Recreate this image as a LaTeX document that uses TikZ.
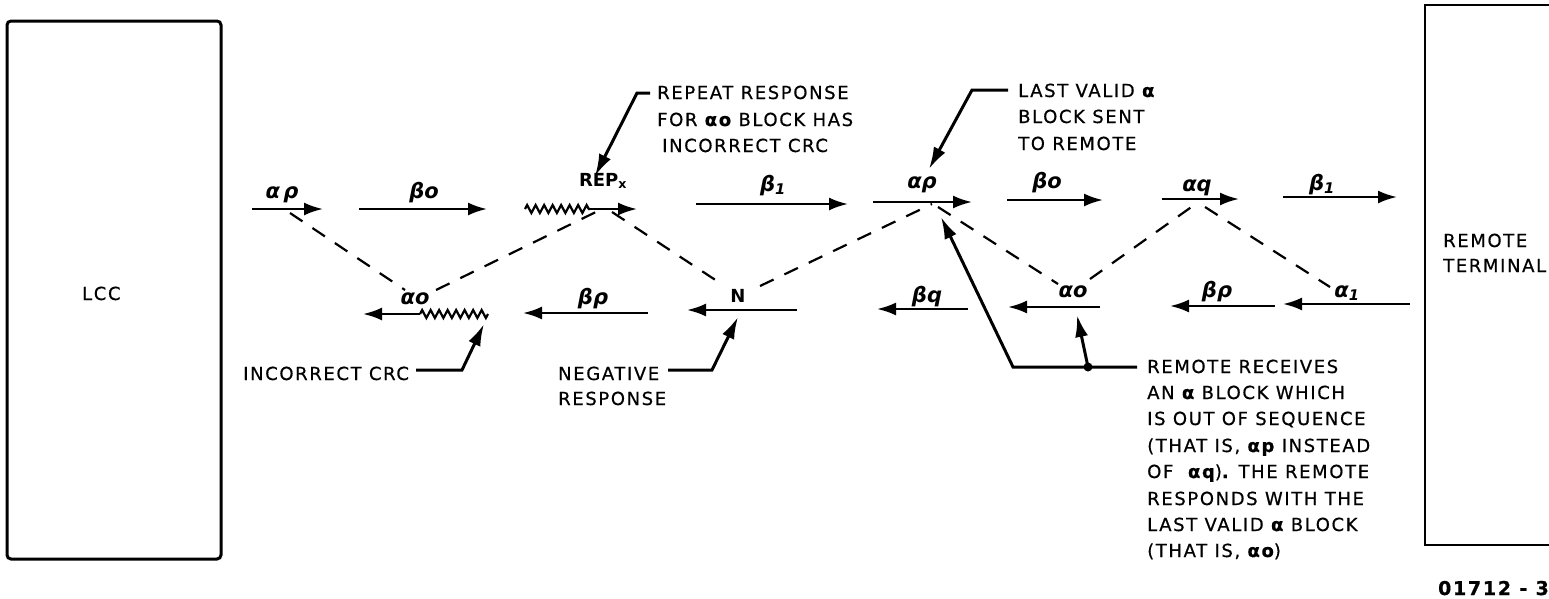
\documentclass[tikz,border=0pt]{standalone}
\usepackage{fontspec}
\setmainfont{DejaVu Sans}
\newfontfamily\lett[LetterSpace=9,FakeBold=0.6]{DejaVu Sans}
\usetikzlibrary{arrows.meta,decorations.pathmorphing}

\begin{document}
\begin{tikzpicture}[x=1pt,y=-1pt,
  msg/.style={line width=2.4pt,-{Latex[length=19pt,width=13pt]}},
  wavy/.style={line width=2.2pt,decorate,decoration={zigzag,segment length=8.5pt,amplitude=4pt}},
  trace/.style={line width=2.2pt,dash pattern=on 15pt off 12pt},
  lead/.style={line width=3pt,-{Latex[length=22pt,width=13pt]}},
  lbl/.style={font=\fontsize{21}{24}\selectfont\bfseries\itshape,anchor=base,inner sep=0pt},
  lblup/.style={font=\fontsize{18}{20}\selectfont\bfseries,anchor=base,inner sep=0pt},
  note/.style={font=\fontsize{18}{20}\lett,anchor=base west,inner sep=0pt},
  unit/.style={line width=3pt,rounded corners=4pt}
]
\useasboundingbox (0,0) rectangle (1549,598);
\clip (0,0) rectangle (1549,598);

% the two stations
\draw[unit] (7,21) rectangle (221,559);
\node[note] (lcc) at (82,300) {LCC};
\draw[line width=2.8pt] (1600,5) -- (1425,5) -- (1425,545) -- (1600,545);
\node[note] (rt1) at (1443,247) {REMOTE};
\node[note] (rt2) at (1443,272) {TERMINAL};

% blocks sent from the LCC (upper row)
\coordinate (a1s) at (252,209); \coordinate (a1e) at (323,209);
\coordinate (a2s) at (359,209); \coordinate (a2e) at (487,209);
\coordinate (a3s) at (525,209); \coordinate (a3m) at (590,209); \coordinate (a3e) at (637,209);
\coordinate (a4s) at (696,204); \coordinate (a4e) at (848,204);
\coordinate (a5s) at (873,202); \coordinate (a5e) at (972,202);
\coordinate (a6s) at (1007,200); \coordinate (a6e) at (1103,200);
\coordinate (a7s) at (1162,199); \coordinate (a7e) at (1239,199);
\coordinate (a8s) at (1283,197); \coordinate (a8e) at (1397,197);

\draw[msg] (a1s) -- (a1e);
\draw[msg] (a2s) -- (a2e);
\draw[wavy] (a3s) -- (a3m);
\draw[msg] (a3m) -- (a3e);
\draw[msg] (a4s) -- (a4e);
\draw[msg] (a5s) -- (a5e);
\draw[msg] (a6s) -- (a6e);
\draw[msg] (a7s) -- (a7e);
\draw[msg] (a8s) -- (a8e);

\node[lbl] (l1) at (282,198) {α\,ρ};
\node[lbl] (l2) at (424,198) {βo};
\node[lblup] (l3) at (603,186) {REP\textsubscript{x}};
\node[lbl] (l4) at (773,191) {β\textsubscript{1}};
\node[lbl] (l5) at (922,188) {αρ};
\node[lbl] (l6) at (1047,188) {βo};
\node[lbl] (l7) at (1197,191) {αq};
\node[lbl] (l8) at (1322,190) {β\textsubscript{1}};

% blocks returned by the remote (lower row)
\coordinate (b1s) at (488,314); \coordinate (b1m) at (420,314); \coordinate (b1e) at (363,314);
\coordinate (b2s) at (648,313); \coordinate (b2e) at (523,313);
\coordinate (b3s) at (797,310); \coordinate (b3e) at (687,310);
\coordinate (b4s) at (968,309); \coordinate (b4e) at (877,309);
\coordinate (b5s) at (1100,307); \coordinate (b5e) at (1008,307);
\coordinate (b6s) at (1275,306); \coordinate (b6e) at (1170,306);
\coordinate (b7s) at (1410,304); \coordinate (b7e) at (1283,304);

\draw[wavy] (b1s) -- (b1m);
\draw[msg] (b1m) -- (b1e);
\draw[msg] (b2s) -- (b2e);
\draw[msg] (b3s) -- (b3e);
\draw[msg] (b4s) -- (b4e);
\draw[msg] (b5s) -- (b5e);
\draw[msg] (b6s) -- (b6e);
\draw[msg] (b7s) -- (b7e);

\node[lbl] (l9) at (415,304) {αo};
\node[lbl] (l10) at (593,304) {βρ};
\node[lblup] (l11) at (738,302) {N};
\node[lbl] (l12) at (927,302) {βq};
\node[lbl] (l13) at (1073,297) {αo};
\node[lbl] (l14) at (1217,297) {βρ};
\node[lbl] (l15) at (1347,297) {α\textsubscript{1}};

% block/response pairing
\coordinate (d1s) at (290,213);  \coordinate (d1e) at (405,290);
\coordinate (d2s) at (436,290);  \coordinate (d2e) at (600,210);
\coordinate (d3s) at (612,212);  \coordinate (d3e) at (720,283);
\coordinate (d4s) at (760,286);  \coordinate (d4e) at (932,204);
\coordinate (d5s) at (938,207);  \coordinate (d5e) at (1058,284);
\coordinate (d6s) at (1090,279); \coordinate (d6e) at (1197,203);
\coordinate (d7s) at (1205,207); \coordinate (d7e) at (1330,287);
\foreach \k in {1,...,7} \draw[trace] (d\k s) -- (d\k e);

% notes and their leaders
\node[note] (t1a) at (657,99) {REPEAT RESPONSE};
\node[note] (t1b) at (657,126) {FOR {\bfseries αo} BLOCK HAS};
\node[note] (t1c) at (662,152) {INCORRECT CRC};
\coordinate (n1a) at (650,93); \coordinate (n1b) at (637,93); \coordinate (n1c) at (595,176);
\draw[lead] (n1a) -- (n1b) -- (n1c);

\node[note] (t2a) at (1018,97) {LAST VALID {\bfseries α}};
\node[note] (t2b) at (1018,123) {BLOCK SENT};
\node[note] (t2c) at (1018,150) {TO REMOTE};
\coordinate (n2a) at (1008,90); \coordinate (n2b) at (972,90); \coordinate (n2c) at (929,169);
\draw[lead] (n2a) -- (n2b) -- (n2c);

\node[note] (t3) at (243,380) {INCORRECT CRC};
\coordinate (n3a) at (416,370); \coordinate (n3b) at (462,370); \coordinate (n3c) at (484,324);
\draw[lead] (n3a) -- (n3b) -- (n3c);

\node[note] (t4a) at (558,380) {NEGATIVE};
\node[note] (t4b) at (558,405) {RESPONSE};
\coordinate (n4a) at (668,370); \coordinate (n4b) at (712,370); \coordinate (n4c) at (738,317);
\draw[lead] (n4a) -- (n4b) -- (n4c);

\node[note] (t5a) at (1147,373) {REMOTE RECEIVES};
\node[note] (t5b) at (1147,399) {AN {\bfseries α} BLOCK WHICH};
\node[note] (t5c) at (1147,425) {IS OUT OF SEQUENCE};
\node[note] (t5d) at (1147,452) {(THAT IS, {\bfseries αp} INSTEAD};
\node[note] (t5e) at (1147,478) {OF\ \ {\bfseries αq}){\bfseries .} THE REMOTE};
\node[note] (t5f) at (1147,505) {RESPONDS WITH THE};
\node[note] (t5g) at (1147,531) {LAST VALID {\bfseries α} BLOCK};
\node[note] (t5h) at (1147,557) {(THAT IS, {\bfseries αo})};
\coordinate (n5a) at (1137,367); \coordinate (n5b) at (1013,367); \coordinate (n5c) at (941,217);
\coordinate (n5d) at (1088,367); \coordinate (n5e) at (1077,315);
\draw[lead] (n5a) -- (n5b) -- (n5c);
\draw[lead] (n5d) -- (n5e);
\fill (n5d) circle (4.5pt);

\node[font=\fontsize{19}{20}\lett\bfseries,anchor=base east,inner sep=0pt] (fig) at (1549,595) {01712 - 3};
\end{tikzpicture}
\end{document}
